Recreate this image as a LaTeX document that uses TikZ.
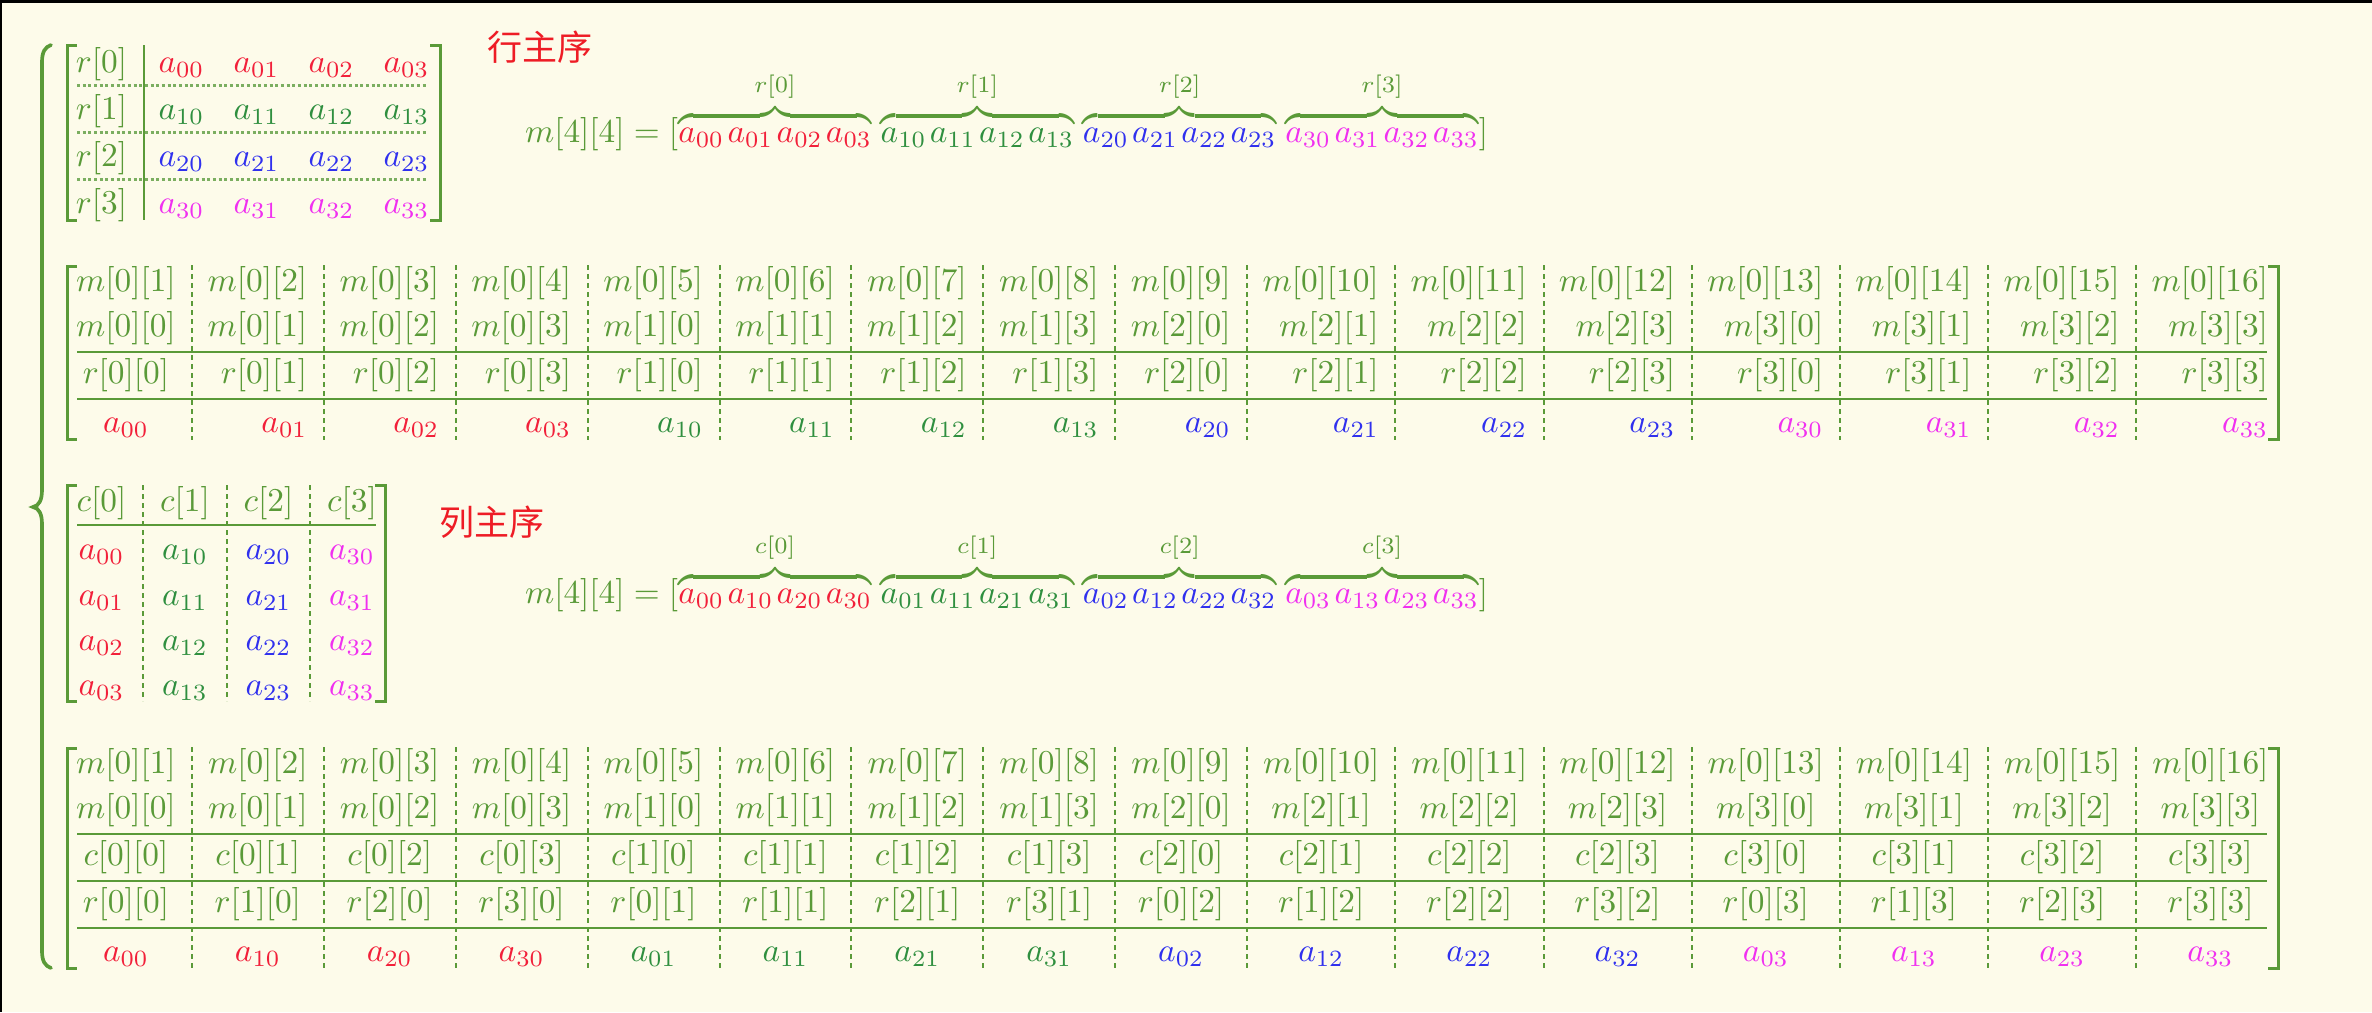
\documentclass[tikz,border=0pt]{standalone}
\usepackage{fontspec}
\newfontfamily\cjk{Noto Sans CJK SC}
\definecolor{bg}{HTML}{FDFBEA}
\definecolor{mg}{HTML}{5A9A38}
\definecolor{ac0}{HTML}{F2203A}
\definecolor{ac1}{HTML}{2F8F3F}
\definecolor{ac2}{HTML}{3030EE}
\definecolor{ac3}{HTML}{F030F0}
\definecolor{zhred}{HTML}{EE1C25}
\newcommand\egap{\mkern1.8mu}
\newcommand\blab[1]{\raisebox{1.2pt}{$\scriptstyle #1$}}
\def\colsT{1/60/191.9,2/191.9/323.8,3/323.8/455.7,4/455.7/587.6,5/587.6/719.5,6/719.5/851.4,7/851.4/983.3,8/983.3/1115.2,9/1115.2/1247.1,10/1247.1/1395.3,11/1395.3/1543.5,12/1543.5/1691.7,13/1691.7/1839.9,14/1839.9/1988.1,15/1988.1/2136.3,16/2136.3/2284.5}
\begin{document}
\begin{tikzpicture}[x=0.3pt,y=-0.3pt,
  cell/.style={inner sep=0pt,outer sep=0pt,text=mg,font=\fontsize{10}{12}\selectfont},
  cc/.style={cell,anchor=base},
  cr/.style={cell,anchor=base east},
  brk/.style={draw=mg,line width=0.9pt},
  bigbrace/.style={draw=mg,line width=1.1pt,line cap=round},
  dotl/.style={draw=mg!80,line width=0.9pt,dash pattern=on 0.9pt off 0.8pt},
  dashl/.style={draw=mg,line width=0.6pt,dash pattern=on 1.6pt off 1.1pt},
  hl/.style={draw=mg,line width=0.8pt},
  zh/.style={inner sep=0pt,text=zhred,font=\cjk\fontsize{10.5}{12}\selectfont}]
\fill[bg] (0,0) rectangle (2372,1012);
\useasboundingbox (0,0) rectangle (2372,1012);
\fill[black] (0,0) rectangle (2372,3);
\fill[black] (0,0) rectangle (2,1012);

% big left brace
\draw[bigbrace] (51,45) .. controls (45,47) and (42,52) .. (42,62) -- (42,490)
  .. controls (42,500) and (39,506) .. (33,507) .. controls (39,508) and (42,514) .. (42,524)
  -- (42,951) .. controls (42,961) and (45,966) .. (51,968);

% ---------- row-major matrix ----------
\draw[brk] (77,45) -- (67,45) -- (67,220) -- (77,220);
\draw[brk] (430,45) -- (440,45) -- (440,220) -- (430,220);
\draw[hl] (144,45) -- (144,220);
\foreach \y in {85,132.2,179.4} \draw[dotl] (77,\y) -- (428,\y);
\foreach \ii in {0,...,3} {
  \pgfmathsetmacro\yb{72+47.2*\ii}
  \node[cc] (RR\ii) at (101.5,\yb) {$r[\ii]$};
  \foreach \jj in {0,...,3} {
    \pgfmathsetmacro\xa{181.5+75*\jj}
    \node[cc,text=ac\ii] (RA\ii\jj) at (\xa,\yb) {$a_{\ii\jj}$};
  }
}
\node[zh] (L1) at (540,47) {行主序};
\node[cell,anchor=base west] (E1) at (525,142) {$m[4][4]=[\overbrace{\color{ac0}a_{00}\egap a_{01}\egap a_{02}\egap a_{03}}^{\blab{r[0]}}\egap\overbrace{\color{ac1}a_{10}\egap a_{11}\egap a_{12}\egap a_{13}}^{\blab{r[1]}}\egap\overbrace{\color{ac2}a_{20}\egap a_{21}\egap a_{22}\egap a_{23}}^{\blab{r[2]}}\egap\overbrace{\color{ac3}a_{30}\egap a_{31}\egap a_{32}\egap a_{33}}^{\blab{r[3]}}]$};

% ---------- table 1 ----------
\draw[brk] (77,266) -- (67,266) -- (67,439) -- (77,439);
\draw[brk] (2268,266) -- (2278,266) -- (2278,439) -- (2268,439);
\draw[hl] (77,352) -- (2267,352);
\draw[hl] (77,399) -- (2267,399);
\foreach \kk/\lx/\rx in \colsT {
  \pgfmathtruncatemacro\pp{\kk-1}
  \pgfmathtruncatemacro\ii{div(\pp,4)}
  \pgfmathtruncatemacro\jj{mod(\pp,4)}
  \pgfmathsetmacro\cx{(\lx+\rx)/2}
  \pgfmathsetmacro\ex{\rx-16.5}
  \ifnum\kk=1
    \node[cc] (TA\kk) at (\cx,291) {$m[0][\kk]$};
    \node[cc] (TB\kk) at (\cx,336) {$m[\ii][\jj]$};
    \node[cc] (TC\kk) at (\cx,383) {$r[\ii][\jj]$};
    \node[cc,text=ac\ii] (TD\kk) at (\cx,432) {$a_{\ii\jj}$};
  \else
    \node[cr] (TA\kk) at (\ex,291) {$m[0][\kk]$};
    \node[cr] (TB\kk) at (\ex,336) {$m[\ii][\jj]$};
    \node[cr] (TC\kk) at (\ex,383) {$r[\ii][\jj]$};
    \node[cr,text=ac\ii] (TD\kk) at (\ex,432) {$a_{\ii\jj}$};
  \fi
  \ifnum\kk<16 \draw[dashl] (\rx,265) -- (\rx,440); \fi
}

% ---------- column-major matrix ----------
\draw[brk] (77,485) -- (67,485) -- (67,701) -- (77,701);
\draw[brk] (375,485) -- (385,485) -- (385,701) -- (375,701);
\foreach \x in {143,226.5,310} \draw[dashl] (\x,485) -- (\x,701);
\draw[hl] (77,525) -- (376,525);
\foreach \kk/\xc in {0/101.5,1/185,2/268.5,3/352} {
  \node[cc] (CH\kk) at (\xc,511) {$c[\kk]$};
  \foreach \rr/\yb in {0/559,1/605,2/650,3/695} {
    \node[cc,text=ac\kk] (CA\kk\rr) at (\xc,\yb) {$a_{\kk\rr}$};
  }
}
\node[zh] (L2) at (492,522) {列主序};
\node[cell,anchor=base west] (E2) at (525,603) {$m[4][4]=[\overbrace{\color{ac0}a_{00}\egap a_{10}\egap a_{20}\egap a_{30}}^{\blab{c[0]}}\egap\overbrace{\color{ac1}a_{01}\egap a_{11}\egap a_{21}\egap a_{31}}^{\blab{c[1]}}\egap\overbrace{\color{ac2}a_{02}\egap a_{12}\egap a_{22}\egap a_{32}}^{\blab{c[2]}}\egap\overbrace{\color{ac3}a_{03}\egap a_{13}\egap a_{23}\egap a_{33}}^{\blab{c[3]}}]$};

% ---------- table 2 ----------
\draw[brk] (77,748) -- (67,748) -- (67,968) -- (77,968);
\draw[brk] (2268,748) -- (2278,748) -- (2278,968) -- (2268,968);
\draw[hl] (77,834) -- (2267,834);
\draw[hl] (77,881) -- (2267,881);
\draw[hl] (77,928) -- (2267,928);
\foreach \kk/\lx/\rx in \colsT {
  \pgfmathtruncatemacro\pp{\kk-1}
  \pgfmathtruncatemacro\ii{div(\pp,4)}
  \pgfmathtruncatemacro\jj{mod(\pp,4)}
  \pgfmathsetmacro\cx{(\lx+\rx)/2}
  \node[cc] (SA\kk) at (\cx,773) {$m[0][\kk]$};
  \node[cc] (SB\kk) at (\cx,818) {$m[\ii][\jj]$};
  \node[cc] (SC\kk) at (\cx,865) {$c[\ii][\jj]$};
  \node[cc] (SD\kk) at (\cx,912) {$r[\jj][\ii]$};
  \node[cc,text=ac\ii] (SE\kk) at (\cx,961) {$a_{\jj\ii}$};
  \ifnum\kk<16 \draw[dashl] (\rx,747) -- (\rx,969); \fi
}
\end{tikzpicture}
\end{document}
